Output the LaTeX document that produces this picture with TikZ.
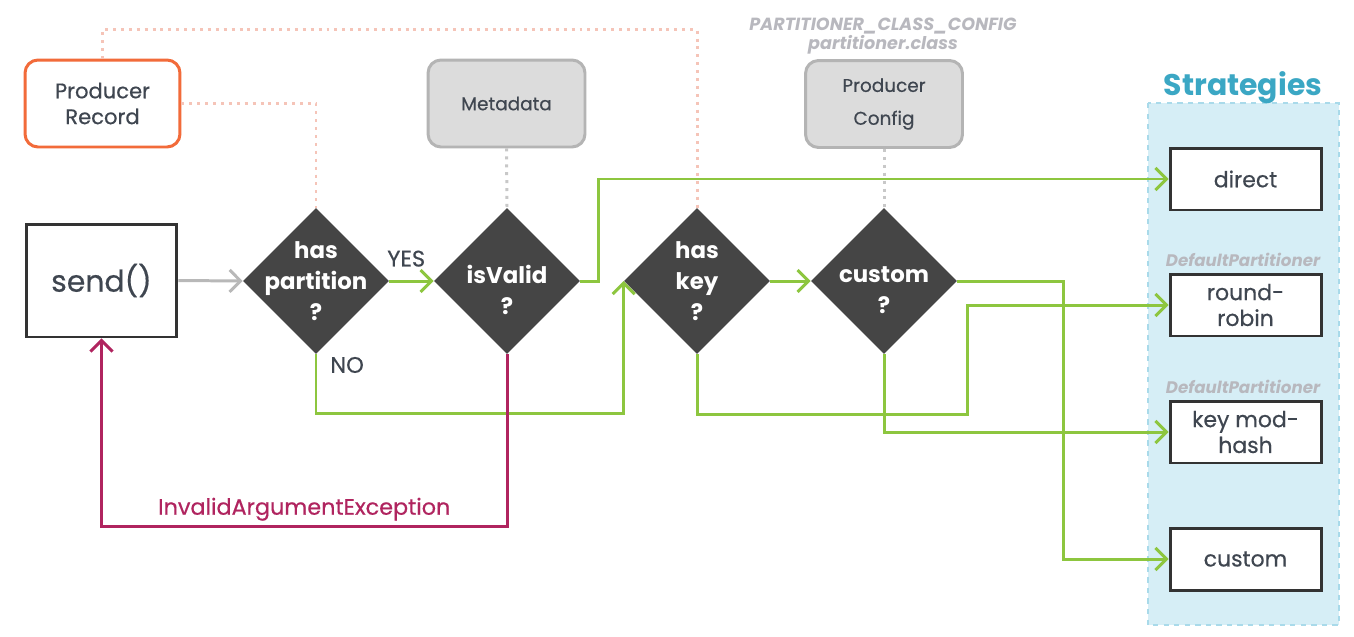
\documentclass[tikz,border=0pt]{standalone}
\usepackage{fontspec}
\setmainfont{Poppins}
\newfontfamily\medfont{Poppins}[FakeBold=0.5]
\usetikzlibrary{shapes.geometric,arrows.meta,calc}
\definecolor{tgray}{HTML}{3F4650}
\definecolor{orng}{HTML}{F26B3A}
\definecolor{gfill}{HTML}{DCDCDC}
\definecolor{gbord}{HTML}{B4B4B4}
\definecolor{dfill}{HTML}{454545}
\definecolor{boxc}{HTML}{333333}
\definecolor{grn}{HTML}{8DC63F}
\definecolor{crim}{HTML}{B0245F}
\definecolor{pinkdot}{HTML}{F5C4B8}
\definecolor{graydot}{HTML}{C8C8C8}
\definecolor{panelfill}{HTML}{D6EEF6}
\definecolor{panelbord}{HTML}{A9DAEA}
\definecolor{teal}{HTML}{3BA7C4}
\definecolor{lbl}{HTML}{B8B8BE}
\definecolor{sendarr}{HTML}{B8B8B8}
\begin{document}
\begin{tikzpicture}[x=0.02cm,y=-0.02cm,
  txt/.style={text=tgray,align=center},
  prbox/.style={txt,draw=orng,line width=1.7pt,rounded corners=0.26cm,fill=white,
    minimum width=3.1cm,minimum height=1.74cm,inner sep=0pt,
    font=\medfont\fontsize{12}{14.7}\selectfont},
  graybox/.style={txt,draw=gbord,fill=gfill,line width=1.7pt,rounded corners=0.26cm,
    minimum width=3.14cm,minimum height=1.74cm,inner sep=0pt},
  sendbox/.style={txt,draw=boxc,line width=1.7pt,fill=white,minimum width=3.02cm,
    minimum height=2.26cm,inner sep=0pt,font=\medfont\fontsize{17}{20}\selectfont},
  diam/.style={diamond,fill=dfill,minimum width=2.92cm,minimum height=2.92cm,
    inner sep=0pt,aspect=1},
  dtext/.style={text=white,align=center,font=\bfseries\fontsize{13}{17.6}\selectfont},
  stbox/.style={txt,draw=boxc,line width=1.7pt,fill=white,minimum width=3.02cm,
    minimum height=1.24cm,inner sep=0pt,font=\medfont\fontsize{12.5}{14.7}\selectfont},
  gline/.style={draw=grn,line width=1.7pt},
  tip/.style={-{Straight Barb[length=2.2mm,width=4.4mm]}},
  garr/.style={gline,tip},
  carr/.style={draw=crim,line width=1.7pt,tip},
  pdot/.style={draw=pinkdot,line width=1.7pt,dash pattern=on 1.7pt off 2.8pt},
  gdot/.style={draw=graydot,line width=1.7pt,dash pattern=on 1.7pt off 2.8pt},
  deflbl/.style={text=lbl,font=\bfseries\itshape\fontsize{9.5}{11}\selectfont},
  yn/.style={text=tgray,font=\medfont\fontsize{12.8}{14}\selectfont}
]
\useasboundingbox[fill=white] (0,0) rectangle (1354,636);

% strategies panel
\draw[fill=panelfill,draw=panelbord,dashed,line width=0.6pt] (1148,103) rectangle (1339,625);
\node[text=teal,font=\bfseries\fontsize{17}{20}\selectfont] (sttitle) at (1243,88) {Strategies};

% top label
\node[deflbl,align=center,font=\bfseries\itshape\fontsize{10}{11}\selectfont] (pcc) at (883,36)
  {PARTITIONER\_CLASS\_CONFIG\\partitioner.class};

% nodes
\node[prbox] (prec) at (102.5,103.5) {Producer\\Record};
\node[graybox,font=\medfont\fontsize{10.5}{12}\selectfont] (meta) at (506.5,103.5) {Metadata};
\node[graybox,font=\medfont\fontsize{10.5}{18.7}\selectfont] (pconf) at (884,104) {Producer\\Config};
\node[sendbox] (send) at (101.5,280.5) {send()};

\node[diam,label={[dtext]center:{has\\partition\\?}}] (hp) at (316,281) {};
\node[diam,label={[dtext,yshift=-0.18cm]center:{isValid\\?}}] (iv) at (507,281) {};
\node[diam,label={[dtext]center:{has\\key\\?}}] (hk) at (697,281) {};
\node[diam,label={[dtext,yshift=-0.18cm]center:{custom\\?}}] (cu) at (884,281) {};

\node[stbox] (direct) at (1245.5,179) {direct};
\node[stbox] (rr) at (1245.5,305) {round-\\robin};
\node[stbox] (kmh) at (1245.5,432) {key mod-\\hash};
\node[stbox] (cbox) at (1245.5,559) {custom};
\node[deflbl] (dp1) at (1243,260) {DefaultPartitioner};
\node[deflbl] (dp2) at (1243,387) {DefaultPartitioner};

% dotted links
\draw[pdot] (prec.north) -- ++(0,-29) -| (hk.north);
\draw[pdot] (prec.east) -| (hp.north);
\draw[gdot] (meta.south) -- (iv.north);
\draw[gdot] (pconf.south) -- (cu.north);

% flow
\draw[draw=sendarr,line width=1.7pt,tip] (send.east) -- (hp.west);
\draw[garr] (hp.east) -- node[yn,above=4pt,xshift=-3pt] {YES} (iv.west);
\draw[garr] (hp.south) -- node[yn,pos=0.18,right=4pt] {NO} ++(0,59) -| (hk.west);
\draw[garr] (iv.east) -- ++(18,0) |- (direct.west);
\draw[carr] (iv.south) -- ++(0,172) -| node[pos=0.25,above=-1pt,text=crim,font=\medfont\fontsize{12.7}{14}\selectfont] {InvalidArgumentException} (send.south);
\draw[garr] (hk.east) -- (cu.west);
\draw[garr] (cu.east) -- ++(106,0) |- (cbox.west);
\draw[garr] (hk.south) -- ++(0,60) -| ([xshift=-4.02cm]rr.west) -- (rr.west);
\draw[garr] (cu.south) |- (kmh.west);
\end{tikzpicture}
\end{document}
